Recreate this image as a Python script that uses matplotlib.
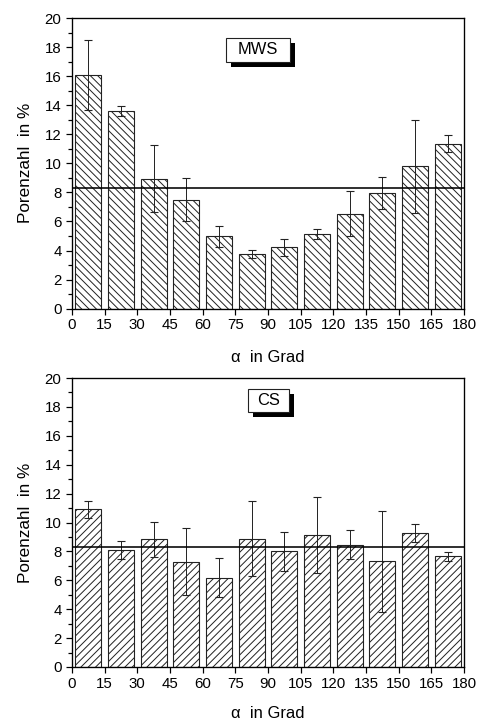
import numpy as np
import matplotlib
matplotlib.use("Agg")
import matplotlib.pyplot as plt
from matplotlib import patheffects
from matplotlib.patches import Rectangle

plt.rcParams["font.family"] = ["Liberation Sans", "DejaVu Sans"]
plt.rcParams["hatch.linewidth"] = 0.8
plt.rcParams["hatch.color"] = "#111111"

DPI = 88  # hatch spacing scales with dpi, this gives the reference's line spacing

# bar centres in degrees
angles = np.arange(7.5, 180, 15)
x_ticks = list(range(0, 181, 15))

mws_vals = [16.1, 13.62, 8.94, 7.5, 4.98, 3.74, 4.22, 5.14, 6.54, 7.96, 9.79, 11.35]
mws_err = [2.4, 0.35, 2.3, 1.47, 0.74, 0.28, 0.58, 0.32, 1.53, 1.12, 3.21, 0.6]
mws_mean = 8.3

cs_vals = [10.9, 8.09, 8.85, 7.3, 6.18, 8.89, 8.0, 9.12, 8.46, 7.33, 9.26, 7.65]
cs_err = [0.61, 0.61, 1.21, 2.34, 1.35, 2.58, 1.34, 2.64, 1.02, 3.5, 0.62, 0.3]
cs_mean = 8.3

# name, values, errors, mean line, hatch, label box (x0, y0, w, h) in data units, xlabel pad
panels = [
    ("MWS", mws_vals, mws_err, mws_mean, "\\\\\\\\", (70.7, 16.98, 29.4, 1.65), 14),
    ("CS", cs_vals, cs_err, cs_mean, "////", (80.8, 17.65, 18.8, 1.59), 12.5),
]

fig = plt.figure(figsize=(479 / DPI, 726 / DPI), dpi=DPI)
rects = [[0.1503, 0.5748, 0.8184, 0.4004], [0.1503, 0.0813, 0.8184, 0.3980]]

for rect, (name, vals, err, mean, hatch, box, xpad) in zip(rects, panels):
    ax = fig.add_axes(rect)
    ax.bar(angles, vals, width=12, color="white", edgecolor="#222222",
           linewidth=0.9, hatch=hatch)
    ax.errorbar(angles, vals, yerr=err, fmt="none", ecolor="#222222",
                elinewidth=0.8, capsize=3.3, capthick=0.9)
    ax.axhline(mean, color="black", linewidth=1.3)

    ax.set_xlim(0, 180)
    ax.set_ylim(0, 20)
    ax.set_xticks(x_ticks)
    ax.set_yticks(range(0, 21, 2))
    ax.set_yticks(range(0, 21, 1), minor=True)
    ax.tick_params(axis="both", which="major", direction="out", length=5,
                   width=1, labelsize=12.3, top=False, right=False)
    ax.tick_params(axis="y", which="minor", direction="out", length=3, width=1)
    ax.tick_params(axis="x", pad=3)
    for s in ax.spines.values():
        s.set_linewidth(1.1)

    ax.set_xlabel("\u03b1  in Grad", fontsize=13.5, labelpad=xpad)
    ax.set_ylabel("Porenzahl  in %", fontsize=14, labelpad=10)

    # label box with drop shadow
    x0, y0, w, h = box
    r = Rectangle((x0, y0), w, h, facecolor="white", edgecolor="#222222",
                  linewidth=0.9, zorder=5)
    r.set_path_effects([
        patheffects.SimplePatchShadow(offset=(4, -4), shadow_rgbFace="black", alpha=1.0),
        patheffects.Normal(),
    ])
    ax.add_patch(r)
    ax.text(x0 + w / 2, y0 + h / 2, name, ha="center", va="center",
            fontsize=13.5, zorder=6)

fig.savefig("out.png", dpi=DPI)
